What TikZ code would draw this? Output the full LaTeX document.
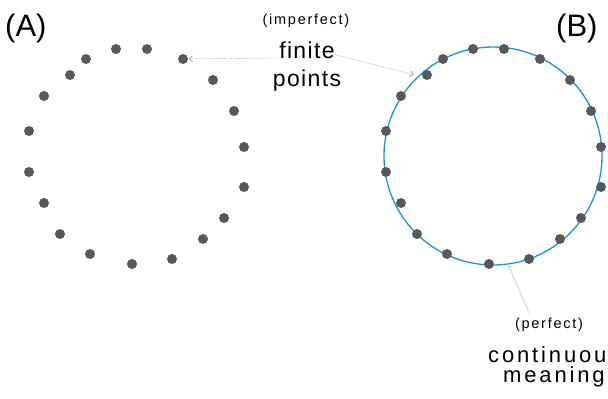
\documentclass[tikz,border=0pt]{standalone}
\usepackage{fontspec}
\setmainfont{Liberation Sans}
\usepackage{tikz}
\usetikzlibrary{arrows.meta, positioning}
\newfontfamily\lblfont[LetterSpace=6]{Liberation Sans}
\newfontfamily\notefont[LetterSpace=12]{Liberation Sans}
\newfontfamily\widefont[LetterSpace=13]{Liberation Sans}
\definecolor{dotgray}{RGB}{88,88,88}
\definecolor{circblue}{RGB}{20,150,220}
\definecolor{tipgray}{RGB}{175,175,175}

\begin{document}
\begin{tikzpicture}[x=1pt, y=-1pt, >={Straight Barb[length=3pt, width=6pt]},
      ptdot/.style={circle, fill=dotgray, minimum size=10pt, inner sep=0pt},
      lettertag/.style={font=\fontsize{31}{36}\selectfont, inner sep=0pt, anchor=base west},
      bigtxt/.style={font=\lblfont\fontsize{23}{28}\selectfont, inner sep=1pt, anchor=base},
      notetxt/.style={font=\notefont\fontsize{14.5}{16}\selectfont, inner sep=1pt, anchor=base},
      widetxt/.style={font=\widefont\fontsize{22}{23}\selectfont, inner sep=0pt, anchor=base west}]

    \useasboundingbox (0,0) rectangle (608,399);

    % perfect circle of (B)
    \node[circle, draw=circblue, line width=1.3pt, minimum size=218pt, inner sep=0pt] (circB) at (493,156) {};

    % the same points in (A) and (B)
    \foreach \px/\py [count=\k] in {116/49, 147/49, 183/59, 213/80, 234/111, 244/147, 244/187,
        224/218, 203/239, 172/259, 132/264, 90/254, 60/234, 44/203, 29/172, 29/131,
        44/96, 70/75, 86/59} {
      \node[ptdot] (a\k) at (\px,\py) {};
      \node[ptdot] (b\k) at (\px+357,\py) {};
    }

    % labels
    \node[lettertag] (tagA) at (5,36) {(A)};
    \node[lettertag] (tagB) at (556,36) {(B)};

    \node[notetxt] (imperf) at (306,24) {(imperfect)};
    \node[bigtxt] (finite) at (307,58) {finite};
    \node[bigtxt] (points) at (307,86) {points};

    \node[notetxt] (perf) at (549,328) {(perfect)};
    \node[widetxt] (cont) at (488,362) {continuou};
    \node[widetxt] (mean) at (503,382) {meaning};

    % pointers
    \draw[->, densely dotted, dotgray, thin, shorten >=1pt] (finite.base west) -- (a3);
    \draw[->, densely dotted, dotgray, thin, shorten >=5pt] ([yshift=3pt]finite.base east) -- (circB.133);

    \coordinate (perfTail) at (529,313);
    \draw[->, tipgray, thin, shorten >=1pt] (perfTail) -- (circB.-82);
  \end{tikzpicture}
\end{document}
